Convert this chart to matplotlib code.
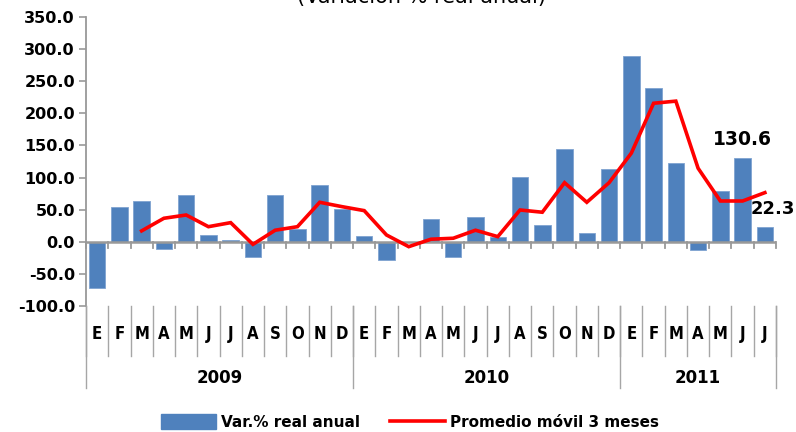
import matplotlib
matplotlib.use("Agg")
import matplotlib.pyplot as plt
import matplotlib.transforms as mtransforms
from matplotlib.lines import Line2D
from matplotlib.patches import Patch
import numpy as np

months = ["E", "F", "M", "A", "M", "J", "J", "A", "S", "O", "N", "D",
          "E", "F", "M", "A", "M", "J", "J", "A", "S", "O", "N", "D",
          "E", "F", "M", "A", "M", "J", "J"]
years = ["2009", "2010", "2011"]
year_counts = [12, 12, 7]

var_real = [-72, 54, 63.5, -10.7, 73, 10, 2, -23, 73, 20, 88, 50.5,
            8.5, -29, -0.5, 36, -23, 38.6, 7.5, 101, 25.7, 144, 14, 113,
            289, 239.6, 122, -13, 79, 130.6, 22.3]
prom_movil = [np.nan, np.nan, 17, 36.6, 41.7, 23.5, 29.8, -4, 18, 23.5, 61.5, 54.7,
              48.5, 10.6, -7.6, 4, 5.5, 18, 8, 49.5, 46, 92, 61.5, 92,
              138, 215.7, 219, 114.5, 63.5, 63.5, 76.5]
yticks = [-100, -50, 0, 50, 100, 150, 200, 250, 300, 350]

fig = plt.figure(figsize=(7.96, 4.32), dpi=100)
ax = fig.add_axes([86/796, 1-306/432, 690/796, 289/432])

x = np.arange(len(months))
ax.bar(x, var_real, width=0.74, color="#4F81BD", edgecolor="#7FA3D0", linewidth=0.6, zorder=2)
ax.plot(x, prom_movil, color="#FF0000", lw=2.6, zorder=3, solid_joinstyle="miter")

ax.set_xlim(-0.5, len(months) - 0.5)
ax.set_ylim(-100, 350)
ax.set_yticks(yticks)
ax.set_yticklabels([f"{v:.1f}" for v in yticks], fontsize=11.5, fontweight="bold")
ax.tick_params(axis="y", length=5, color="#999999", width=1.2, pad=3)

for s in ["top", "right", "bottom"]:
    ax.spines[s].set_visible(False)
ax.spines["left"].set_color("#999999")
ax.spines["left"].set_linewidth(1.3)
ax.set_xticks([])

# zero axis line with boundary tick marks
ax.axhline(0, color="#999999", lw=1.8, zorder=2.5)
for b in np.arange(len(months) + 1) - 0.5:
    ax.plot([b, b], [0, -10], color="#999999", lw=1.3, zorder=2.5, clip_on=False)

# multilevel category labels below
trans = mtransforms.blended_transform_factory(ax.transData, fig.transFigure)
def fy(py):
    return 1 - py / 432

for i, m in enumerate(months):
    ax.text(i, fy(334), m, transform=trans, ha="center", va="center",
            fontsize=12, fontweight="bold", fontstretch="condensed")
for b in np.arange(len(months) + 1) - 0.5:
    fig.add_artist(Line2D([b, b], [fy(306), fy(356)], transform=trans,
                          color="#A6A6A6", lw=1.0))
start = 0
bounds = [-0.5]
for y, c in zip(years, year_counts):
    ax.text(start + (c - 1) / 2, fy(378), y, transform=trans, ha="center", va="center",
            fontsize=12, fontweight="bold")
    start += c
    bounds.append(start - 0.5)
for b in bounds:
    fig.add_artist(Line2D([b, b], [fy(306), fy(388)], transform=trans,
                          color="#A6A6A6", lw=1.0))

# data labels
ax.text(29, var_real[29] + 14, f"{var_real[29]:.1f}", ha="center", va="bottom",
        fontsize=13.5, fontweight="bold")
ax.text(30.35, var_real[30] + 14, f"{var_real[30]:.1f}", ha="center", va="bottom",
        fontsize=13, fontweight="bold", clip_on=False)

# partial title at top (cut by the figure edge as in the reference)
fig.text(0.53, 1 - 3/432, "(Variación % real anual)", ha="center", va="baseline",
         fontsize=15)

handles = [Patch(facecolor="#4F81BD", edgecolor="#4F81BD"),
           Line2D([0], [0], color="#FF0000", lw=2.6)]
fig.legend(handles, ["Var.% real anual", "Promedio móvil 3 meses"],
           loc="center", bbox_to_anchor=(0.515, 1 - 422/432), ncol=2, frameon=False,
           prop={"weight": "bold", "size": 11}, handlelength=3.6, handleheight=1.1,
           columnspacing=2.0, handletextpad=0.3)

fig.savefig("out.png", dpi=100)
